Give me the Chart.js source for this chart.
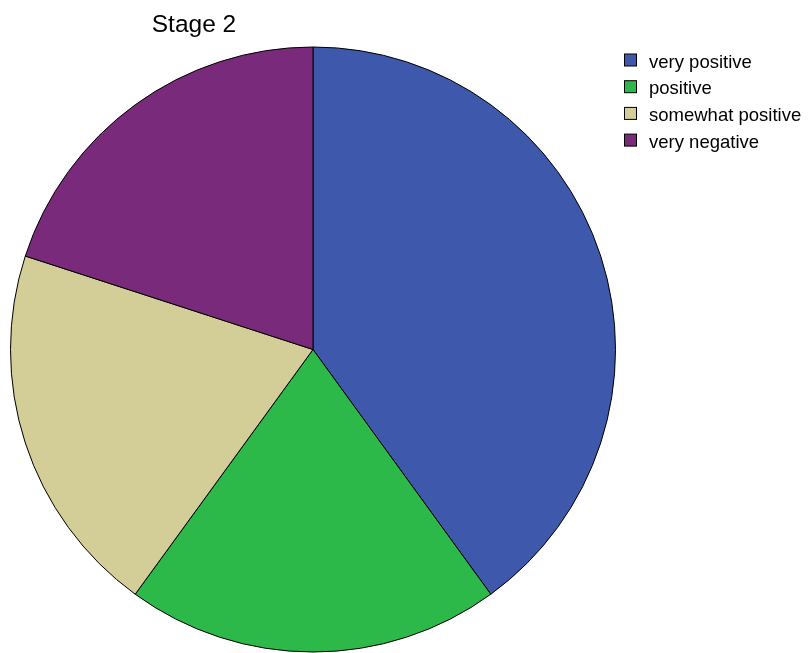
<!DOCTYPE html>
<html>
<head>
<meta charset="utf-8">
<script src="https://cdn.jsdelivr.net/npm/chart.js@4"></script>
<style>
html,body{margin:0;padding:0;background:#fff;}
#wrap{width:808px;height:653px;position:relative;}
</style>
</head>
<body>
<div id="wrap"><canvas id="c" width="808" height="653"></canvas></div>
<script>
const title = "Stage 2";
const categories = ["very positive", "positive", "somewhat positive", "very negative"];
const values = [40, 20, 20, 20];
const colors = ["#3e58ac", "#2db84a", "#d3ce97", "#7a2a7a"];

const overlay = {
  id: 'overlay',
  afterDraw(chart) {
    const ctx = chart.ctx;
    ctx.save();
    ctx.fillStyle = '#000';
    ctx.font = '24.5px "Liberation Sans", Arial, sans-serif';
    ctx.textAlign = 'center';
    ctx.textBaseline = 'middle';
    ctx.fillText(title, 194, 25);
    ctx.font = '18.5px "Liberation Sans", Arial, sans-serif';
    ctx.textAlign = 'left';
    categories.forEach((lab, i) => {
      const y = 60 + i * 26.7;
      ctx.fillStyle = colors[i];
      ctx.fillRect(624.5, y - 6, 12, 12);
      ctx.strokeStyle = '#000';
      ctx.lineWidth = 1;
      ctx.strokeRect(624.5, y - 6, 12, 12);
      ctx.fillStyle = '#000';
      ctx.fillText(lab, 649, y + 2.5);
    });
    ctx.restore();
  }
};

new Chart(document.getElementById('c'), {
  type: 'pie',
  data: {
    labels: categories,
    datasets: [{
      data: values,
      backgroundColor: colors,
      borderColor: '#000',
      borderWidth: 1,
      hoverOffset: 0
    }]
  },
  options: {
    responsive: false,
    animation: false,
    layout: { padding: { left: 10, top: 46, right: 192, bottom: 0 } },
    plugins: {
      legend: { display: false },
      title: { display: false },
      tooltip: { enabled: false }
    }
  },
  plugins: [overlay]
});
</script>
</body>
</html>
